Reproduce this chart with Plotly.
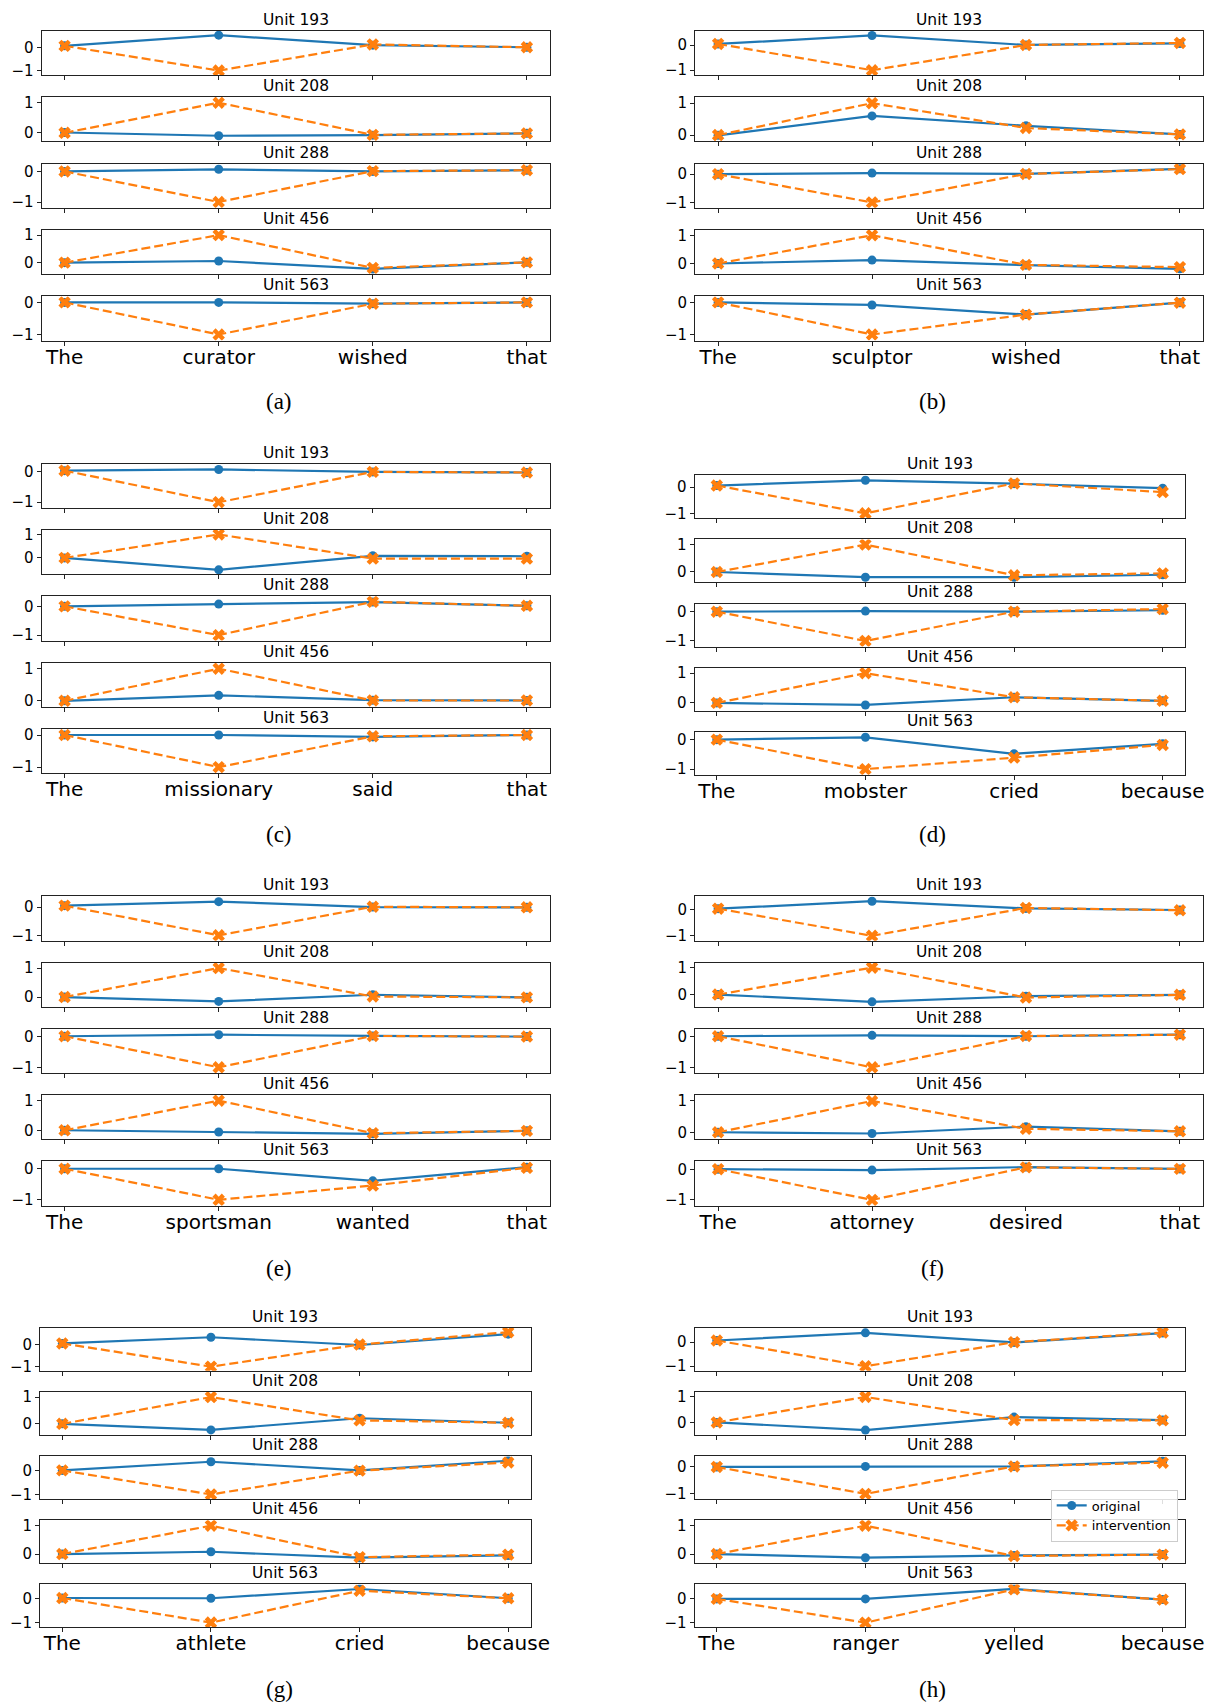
import plotly.graph_objects as go

W, H = 1212, 1707

units = ["Unit 193", "Unit 208", "Unit 288", "Unit 456", "Unit 563"]

tokens_a = ["The", "curator", "wished", "that"]
original_a = [[0.06, 0.52, 0.09, 0.00], [0.00, -0.11, -0.09, -0.03], [0.00, 0.07, 0.00, 0.04],
              [0.00, 0.06, -0.23, 0.01], [0.00, 0.00, -0.04, 0.00]]
intervention_a = [[0.06, -1.0, 0.12, 0.00], [-0.01, 1.0, -0.08, -0.03], [0.00, -1.0, 0.01, 0.04],
                  [0.00, 1.0, -0.19, 0.01], [0.00, -1.0, -0.04, 0.00]]

tokens_b = ["The", "sculptor", "wished", "that"]
original_b = [[0.05, 0.39, 0.01, 0.07], [-0.01, 0.60, 0.29, 0.02], [0.00, 0.04, 0.01, 0.19],
              [0.00, 0.12, -0.06, -0.19], [0.00, -0.08, -0.38, -0.01]]
intervention_b = [[0.05, -1.0, 0.01, 0.09], [0.00, 1.0, 0.22, 0.02], [0.00, -1.0, 0.01, 0.18],
                  [0.00, 1.0, -0.05, -0.13], [0.00, -1.0, -0.38, -0.01]]

tokens_c = ["The", "missionary", "said", "that"]
original_c = [[0.04, 0.08, 0.00, -0.02], [0.00, -0.51, 0.09, 0.07], [0.00, 0.08, 0.15, 0.02],
              [0.00, 0.17, 0.02, 0.01], [0.00, 0.00, -0.06, 0.00]]
intervention_c = [[0.04, -1.0, 0.00, -0.02], [0.00, 1.0, -0.03, -0.03], [0.00, -1.0, 0.16, 0.02],
                  [0.00, 1.0, 0.01, 0.01], [0.00, -1.0, -0.04, 0.00]]

tokens_d = ["The", "mobster", "cried", "because"]
original_d = [[0.06, 0.26, 0.13, -0.04], [0.00, -0.19, -0.19, -0.10], [0.00, 0.02, 0.00, 0.05],
              [0.00, -0.07, 0.19, 0.07], [0.00, 0.08, -0.48, -0.14]]
intervention_d = [[0.06, -1.0, 0.14, -0.19], [0.00, 1.0, -0.12, -0.05], [0.00, -1.0, 0.00, 0.09],
                  [0.00, 1.0, 0.19, 0.07], [0.00, -1.0, -0.61, -0.18]]

tokens_e = ["The", "sportsman", "wanted", "that"]
original_e = [[0.05, 0.19, 0.00, -0.01], [0.00, -0.15, 0.08, -0.01], [0.00, 0.05, 0.01, -0.01],
              [0.00, -0.06, -0.12, -0.02], [0.00, 0.00, -0.39, 0.05]]
intervention_e = [[0.05, -1.0, 0.01, -0.01], [0.00, 1.0, 0.02, -0.01], [0.00, -1.0, 0.01, -0.01],
                  [0.00, 1.0, -0.10, -0.02], [0.00, -1.0, -0.54, 0.03]]

tokens_f = ["The", "attorney", "desired", "that"]
original_f = [[0.05, 0.34, 0.06, 0.00], [0.00, -0.27, -0.06, -0.01], [0.00, 0.03, 0.00, 0.05],
              [0.00, -0.04, 0.18, 0.03], [0.01, -0.02, 0.08, 0.02]]
intervention_f = [[0.05, -1.0, 0.08, -0.01], [0.00, 1.0, -0.11, -0.01], [0.00, -1.0, 0.01, 0.05],
                  [0.00, 1.0, 0.11, 0.03], [0.01, -1.0, 0.07, 0.02]]

tokens_g = ["The", "athlete", "cried", "because"]
original_g = [[0.05, 0.33, -0.02, 0.47], [-0.01, -0.24, 0.20, 0.03], [0.00, 0.36, 0.00, 0.40],
              [0.00, 0.08, -0.13, -0.05], [0.01, 0.00, 0.38, 0.00]]
intervention_g = [[0.05, -1.0, 0.00, 0.56], [-0.01, 1.0, 0.12, 0.03], [0.00, -1.0, -0.01, 0.33],
                  [0.00, 1.0, -0.11, -0.02], [0.01, -1.0, 0.31, 0.00]]

tokens_h = ["The", "ranger", "yelled", "because"]
original_h = [[0.07, 0.39, -0.01, 0.38], [0.00, -0.30, 0.21, 0.09], [0.00, 0.02, 0.02, 0.21],
              [0.00, -0.13, -0.05, -0.02], [0.00, 0.00, 0.42, -0.03]]
intervention_h = [[0.07, -1.0, 0.00, 0.40], [0.00, 1.0, 0.09, 0.08], [0.00, -1.0, 0.02, 0.16],
                  [0.00, 1.0, -0.07, -0.02], [0.00, -1.0, 0.40, -0.03]]

panels = [
    ("(a)", tokens_a, original_a, intervention_a),
    ("(b)", tokens_b, original_b, intervention_b),
    ("(c)", tokens_c, original_c, intervention_c),
    ("(d)", tokens_d, original_d, intervention_d),
    ("(e)", tokens_e, original_e, intervention_e),
    ("(f)", tokens_f, original_f, intervention_f),
    ("(g)", tokens_g, original_g, intervention_g),
    ("(h)", tokens_h, original_h, intervention_h),
]

# ---- layout geometry (pixels) ----
panel_x = [(41.5, 550), (695, 1203), (41.5, 550), (694.5, 1185),
           (41.5, 550), (695, 1203), (40, 530.5), (694.5, 1185)]
panel_y = [(30.7, 66.4, 44.3), (30.7, 66.4, 44.3), (463.7, 66.3, 44.3), (475.3, 64.1, 43.0),
           (896.3, 66.25, 44.4), (896.3, 66.25, 44.4), (1328, 64.1, 42.8), (1328, 64.1, 42.8)]
caption_pos = [(279, 402), (932, 402), (279, 834), (932, 834),
               (279, 1268), (932, 1268), (279, 1689), (932, 1689)]

BLUE = "#1f77b4"
ORANGE = "#ff7f0e"
AX = "#222222"
PAD = 0.19

fig = go.Figure()
layout = dict(
    template="none",
    width=W, height=H, autosize=False,
    margin=dict(l=0, r=0, t=0, b=0, pad=0),
    paper_bgcolor="white", plot_bgcolor="white",
    font=dict(family="DejaVu Sans", color="black"),
    showlegend=True,
    legend=dict(x=1050.7 / W, y=1 - 1489.5 / H, xanchor="left", yanchor="top",
                bordercolor="#cccccc", borderwidth=1, bgcolor="rgba(255,255,255,0.85)",
                font=dict(size=13, family="DejaVu Sans"), tracegroupgap=0),
)
annotations = []

k = 0
for p, (cap, toks, orig, interv) in enumerate(panels):
    x0, x1 = panel_x[p]
    top0, pitch, bh = panel_y[p]
    for s in range(5):
        k += 1
        xa = "x" if k == 1 else f"x{k}"
        ya = "y" if k == 1 else f"y{k}"
        xkey = "xaxis" if k == 1 else f"xaxis{k}"
        ykey = "yaxis" if k == 1 else f"yaxis{k}"
        top = top0 + s * pitch
        bot = top + bh
        ob, iv = orig[s], interv[s]
        lo = min(ob + iv) - PAD
        hi = max(ob + iv) + PAD
        fig.add_trace(go.Scatter(
            x=toks, y=ob, xaxis=xa, yaxis=ya, mode="lines+markers", name="original",
            line=dict(color=BLUE, width=2.2), marker=dict(symbol="circle", size=9, color=BLUE),
            showlegend=(k == 1), legendgroup="orig"))
        fig.add_trace(go.Scatter(
            x=toks, y=iv, xaxis=xa, yaxis=ya, mode="lines+markers", name="intervention",
            line=dict(color=ORANGE, width=2.2, dash="9px,4px"),
            marker=dict(symbol="x", size=11, color=ORANGE),
            showlegend=(k == 1), legendgroup="interv"))
        layout[xkey] = dict(
            domain=[x0 / W, x1 / W], anchor=ya, type="category", automargin=False,
            range=[-0.15, 3.15], showticklabels=(s == 4),
            ticks="outside", ticklen=4, tickcolor=AX, tickwidth=1,
            ticklabelstandoff=-6,
            tickfont=dict(size=20, family="DejaVu Sans", color="black"),
            showline=True, mirror=True, linecolor=AX, linewidth=1,
            showgrid=False, zeroline=False, fixedrange=True)
        layout[ykey] = dict(
            domain=[1 - bot / H, 1 - top / H], anchor=xa, automargin=False,
            range=[lo, hi], tick0=0, dtick=1,
            ticks="outside", ticklen=4, tickcolor=AX, tickwidth=1,
            tickfont=dict(size=15, family="DejaVu Sans", color="black"),
            showline=True, mirror=True, linecolor=AX, linewidth=1,
            showgrid=False, zeroline=False, fixedrange=True)
        annotations.append(dict(
            text=units[s], xref="paper", yref="paper",
            x=(x0 + x1) / 2 / W, y=1 - top / H, xanchor="center", yanchor="bottom",
            yshift=0, showarrow=False,
            font=dict(size=15.5, family="DejaVu Sans", color="black")))
    cx, cy = caption_pos[p]
    annotations.append(dict(
        text=cap, xref="paper", yref="paper", x=cx / W, y=1 - cy / H,
        xanchor="center", yanchor="middle", showarrow=False,
        font=dict(size=23, family="Liberation Serif", color="black")))

layout["annotations"] = annotations
fig.update_layout(**layout)
fig.write_html("out.html",
               config={"displayModeBar": False},
               post_script="document.body.style.margin='0';document.body.style.overflow='hidden';")
